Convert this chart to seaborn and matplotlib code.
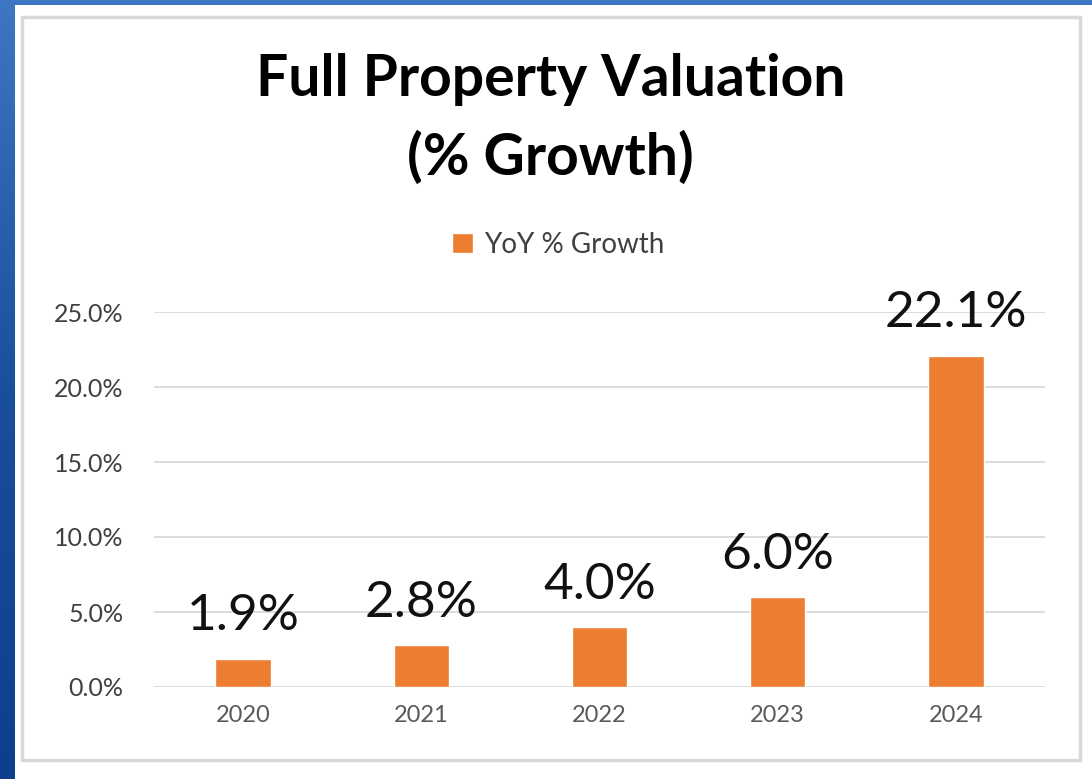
import numpy as np
import pandas as pd
import matplotlib
matplotlib.use("Agg")
import matplotlib.pyplot as plt
from matplotlib.patches import Rectangle
import seaborn as sns

# data
years = ["2020", "2021", "2022", "2023", "2024"]
growth = [1.9, 2.8, 4.0, 6.0, 22.1]
value_labels = ["1.9%", "2.8%", "4.0%", "6.0%", "22.1%"]
yticks = [0, 5, 10, 15, 20, 25]

df = pd.DataFrame({"year": years, "growth": growth})

sns.set_style("white")
plt.rcParams["font.family"] = ["Lato", "DejaVu Sans"]

W, H = 1092, 779
fig = plt.figure(figsize=(W / 100, H / 100), dpi=100)
fig.patch.set_facecolor("white")

# blue slide background strips (top and left) + chart frame
bg = fig.add_axes([0, 0, 1, 1], zorder=-10)
bg.set_xlim(0, W)
bg.set_ylim(H, 0)
bg.axis("off")
grad = np.linspace(0, 1, 200).reshape(-1, 1)
cmap = matplotlib.colors.LinearSegmentedColormap.from_list("bg", ["#3d76c2", "#1a4f9c", "#0e3f8c"])
bg.imshow(grad, cmap=cmap, extent=[0, 15, H, 0], aspect="auto")
bg.add_patch(Rectangle((0, 0), W, 5, color="#3d76c2", lw=0))
bg.add_patch(Rectangle((22, 17), 1080 - 22, 760 - 17, fill=False, edgecolor="#d9d9d9", lw=2.5))

ax = fig.add_axes([154 / W, 1 - 687 / H, (1045 - 154) / W, (687 - 312) / H])
sns.barplot(data=df, x="year", y="growth", color="#ed7d31", width=0.31,
            saturation=1, label="YoY % Growth", ax=ax, zorder=3)

ax.set_ylim(0, 25)
ax.set_yticks(yticks)
ax.set_yticklabels([f"{t:.1f}%" for t in yticks], fontsize=18, color="#404040")
ax.tick_params(axis="x", labelsize=17, colors="#595959", length=0, pad=13)
ax.tick_params(axis="y", length=0, pad=22)
ax.grid(axis="y", color="#d9d9d9", lw=1.3, zorder=0)
ax.set_axisbelow(True)
sns.despine(ax=ax, left=True, bottom=True)
ax.set_xlabel("")
ax.set_ylabel("")

ax.bar_label(ax.containers[0], labels=value_labels, padding=14, fontsize=37, color="#111111", clip_on=False)

fig.text(0.504, 1 - 80 / H, "Full Property Valuation", ha="center", va="center",
         fontsize=41, fontweight="bold", color="black")
fig.text(0.504, 1 - 158 / H, "(% Growth)", ha="center", va="center",
         fontsize=41, fontweight="bold", color="black")

ax.legend(loc="center", bbox_to_anchor=(558 / W, 1 - 245 / H), bbox_transform=fig.transFigure,
          frameon=False, fontsize=20, handlelength=0.75, handleheight=0.75, handletextpad=0.4,
          labelcolor="#404040")

fig.savefig("out.png", dpi=100)
